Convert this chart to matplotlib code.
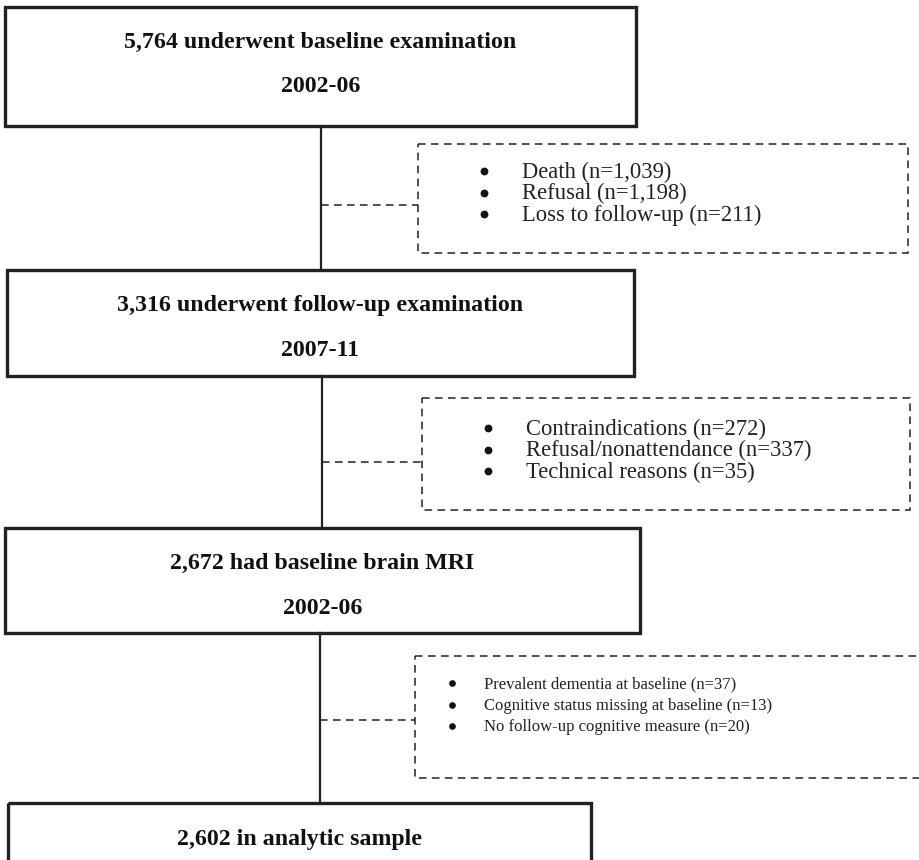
import matplotlib
matplotlib.use("Agg")
import matplotlib.pyplot as plt
from matplotlib.patches import Rectangle

# flowchart content
counts = ["5,764", "3,316", "2,672", "2,602"]
stages = ["underwent baseline examination", "underwent follow-up examination",
          "had baseline brain MRI", "in analytic sample"]
years = ["2002-06", "2007-11", "2002-06", None]

excl_reasons = [
    ["Death", "Refusal", "Loss to follow-up"],
    ["Contraindications", "Refusal/nonattendance", "Technical reasons"],
    ["Prevalent dementia at baseline", "Cognitive status missing at baseline",
     "No follow-up cognitive measure"],
]
excl_n = [
    ["1,039", "1,198", "211"],
    ["272", "337", "35"],
    ["37", "13", "20"],
]

# layout in pixel coordinates (x0, y0, x1, y1)
main_boxes = [(5, 7, 636, 126), (7, 270, 634, 376), (5, 528, 640, 633), (8, 803, 591, 900)]
trunk_x = [321, 322, 320]
dash_boxes = [(418, 144, 908, 253), (422, 398, 910, 510), (415, 656, 930, 778)]
connector_y = [205, 462, 720]
bullet_x = [484, 488, 452]
text_x = [522, 526, 484]
line_y0 = [172, 429, 684]
line_gap = [21.5, 21.5, 21.5]
excl_size = [16.3, 16.3, 12]
bullet_ms = [4.6, 4.6, 3.8]

W, H = 919, 860
fig = plt.figure(figsize=(W / 100, H / 100), dpi=100)
ax = fig.add_axes([0, 0, 1, 1])
ax.set_xlim(0, W)
ax.set_ylim(H, 0)
ax.axis("off")

serif = ["Liberation Serif", "DejaVu Serif"]
edge = "#222222"

for i, (x0, y0, x1, y1) in enumerate(main_boxes):
    ax.add_patch(Rectangle((x0, y0), x1 - x0, y1 - y0, fill=False,
                           edgecolor=edge, lw=2.4, clip_on=False))
    cx = (x0 + x1) / 2
    title_y = y0 + 35 if years[i] else y0 + 36
    ax.text(cx, title_y, f"{counts[i]} {stages[i]}", ha="center", va="center",
            family=serif, weight="bold", fontsize=17.2, color="#111111")
    if years[i]:
        ax.text(cx, y0 + 80, years[i], ha="center", va="center",
                family=serif, weight="bold", fontsize=17.2, color="#111111")

for i in range(3):
    top = main_boxes[i][3]
    bottom = main_boxes[i + 1][1]
    ax.plot([trunk_x[i], trunk_x[i]], [top, bottom], color=edge, lw=1.6)
    bx0, by0, bx1, by1 = dash_boxes[i]
    ax.add_patch(Rectangle((bx0, by0), bx1 - bx0, by1 - by0, fill=False,
                           edgecolor=edge, lw=1.1, linestyle=(0, (5, 3.5)),
                           clip_on=True))
    ax.plot([trunk_x[i], bx0], [connector_y[i], connector_y[i]], color=edge,
            lw=1.1, linestyle=(0, (5, 3.5)))
    ys = [line_y0[i] + j * line_gap[i] for j in range(len(excl_reasons[i]))]
    ax.plot([bullet_x[i]] * len(ys), [y - 1 for y in ys], linestyle="none",
            marker="o", markersize=bullet_ms[i], color="#111111")
    for y, reason, n in zip(ys, excl_reasons[i], excl_n[i]):
        ax.text(text_x[i], y, f"{reason} (n={n})", ha="left", va="center",
                family=serif, fontsize=excl_size[i], color="#222222")

fig.savefig("out.png", dpi=100)
